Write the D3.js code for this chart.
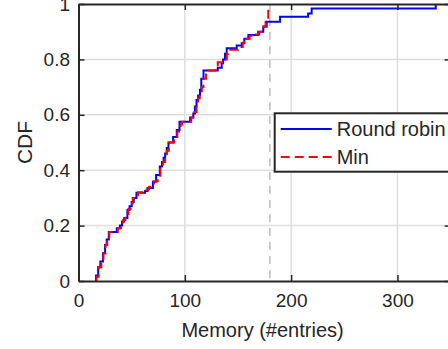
<!DOCTYPE html>
<html>
<head>
<meta charset="utf-8">
<title>CDF memory</title>
<script src="https://cdn.jsdelivr.net/npm/d3@7"></script>
<style>
  body { margin: 0; background: #fff; }
  text { font-family: "Liberation Sans", Arial, Helvetica, sans-serif; fill: #262626; }
</style>
</head>
<body>
<div id="chart"></div>
<script>
// step points of each CDF: memory value where the jump happens, CDF after the jump
var rrMem = [16.5, 16.5, 18.5, 20.5, 23, 25, 26.5, 28.5, 36, 39, 41, 43, 46, 48, 50, 52, 54.5,
  62.6, 65, 70, 73, 76.5, 78.5, 80, 81.5, 83, 84.6, 89, 92.4, 95, 105, 108, 109.5, 111, 112.5,
  114.3, 115.5, 117.6, 131, 134.7, 136, 137.8, 139.4, 148.8, 153.5, 156, 159.8, 169, 173.8,
  177, 189.6, 216, 219.3, 336];
var rrCdf = [0, 0.02, 0.05, 0.07, 0.10, 0.13, 0.15, 0.177, 0.19, 0.20, 0.215, 0.227, 0.256, 0.27,
  0.285, 0.30, 0.319, 0.325, 0.336, 0.358, 0.383, 0.413, 0.43, 0.445, 0.46, 0.48, 0.50, 0.52,
  0.545, 0.575, 0.59, 0.605, 0.63, 0.653, 0.67, 0.69, 0.73, 0.76, 0.77, 0.786, 0.80, 0.82, 0.84,
  0.85, 0.858, 0.875, 0.888, 0.90, 0.918, 0.936, 0.954, 0.966, 0.984, 1.0];

var minMem = [17, 17, 19, 21.5, 23.5, 25.5, 27, 29, 37, 40, 42, 44, 47, 49, 51, 53, 56, 64, 66.5,
  71, 74.5, 77, 79.5, 81.5, 83, 85, 90, 93, 96, 97.5, 106, 109, 111, 112.5, 114, 116, 117.5, 120,
  122, 129, 131, 136.5, 139.5, 141, 150, 154.5, 157, 161, 167, 170, 174, 176, 178.5];
var minCdf = [0, 0.015, 0.05, 0.065, 0.10, 0.13, 0.155, 0.177, 0.19, 0.205, 0.22, 0.235, 0.26,
  0.28, 0.30, 0.31, 0.32, 0.33, 0.34, 0.36, 0.38, 0.405, 0.43, 0.45, 0.47, 0.50, 0.515, 0.54,
  0.565, 0.575, 0.59, 0.61, 0.64, 0.66, 0.68, 0.70, 0.73, 0.75, 0.76, 0.775, 0.79, 0.80, 0.82,
  0.835, 0.845, 0.86, 0.875, 0.885, 0.89, 0.90, 0.92, 0.936, 1.0];

var xTicks = [0, 100, 200, 300];
var yTicks = [0, 0.2, 0.4, 0.6, 0.8, 1];
var cutoff = 180;   // dashed reference line
var seriesNames = ["Round robin", "Min"];

var W = 448, H = 349;
var pl = 78.5, pt = 4, pb = 281, pr = 450.6;

var svg = d3.select("#chart").append("svg")
    .attr("width", W).attr("height", H);

var x = d3.scaleLinear().domain([0, 350]).range([pl, pr]);
var y = d3.scaleLinear().domain([0, 1]).range([pb, pt]);

// grid
svg.append("g").selectAll("line").data(xTicks.slice(1)).join("line")
    .attr("x1", d => x(d)).attr("x2", d => x(d))
    .attr("y1", pt).attr("y2", pb)
    .attr("stroke", "#dedede").attr("stroke-width", 1.5);
svg.append("g").selectAll("line").data(yTicks.slice(1, -1)).join("line")
    .attr("x1", pl).attr("x2", pr)
    .attr("y1", d => y(d)).attr("y2", d => y(d))
    .attr("stroke", "#dedede").attr("stroke-width", 1.5);

// reference line
svg.append("line")
    .attr("x1", x(cutoff)).attr("x2", x(cutoff))
    .attr("y1", pt).attr("y2", pb)
    .attr("stroke", "#bdbdbd").attr("stroke-width", 1.5)
    .attr("stroke-dasharray", "8,6");

var line = d3.line()
    .x(d => x(d[0])).y(d => y(d[1]))
    .curve(d3.curveStepAfter);

svg.append("path")
    .datum(d3.zip(rrMem, rrCdf))
    .attr("d", line)
    .attr("fill", "none").attr("stroke", "#0000ff").attr("stroke-width", 2);

svg.append("path")
    .datum(d3.zip(minMem, minCdf))
    .attr("d", line)
    .attr("fill", "none").attr("stroke", "#ff0000").attr("stroke-width", 2)
    .attr("stroke-dasharray", "9,5");

// axes (box with inward ticks)
var axCol = "#262626";
svg.append("g").attr("transform", "translate(0," + pb + ")")
    .call(d3.axisBottom(x).tickValues(xTicks).tickSizeInner(-6).tickSizeOuter(0).tickPadding(13))
    .call(g => g.selectAll("text").attr("font-size", 19).attr("fill", axCol));
svg.append("g").attr("transform", "translate(0," + pt + ")")
    .call(d3.axisTop(x).tickValues(xTicks).tickSizeInner(-6).tickSizeOuter(0).tickFormat(""));
svg.append("g").attr("transform", "translate(" + pl + ",0)")
    .call(d3.axisLeft(y).tickValues(yTicks).tickSizeInner(-6).tickSizeOuter(0).tickPadding(8.5)
      .tickFormat(d3.format("~g")))
    .call(g => g.selectAll("text").attr("font-size", 19).attr("fill", axCol));
svg.append("g").attr("transform", "translate(" + pr + ",0)")
    .call(d3.axisRight(y).tickValues(yTicks).tickSizeInner(-6).tickSizeOuter(0).tickFormat(""));
svg.selectAll(".domain").attr("stroke", axCol).attr("stroke-width", 2);
svg.selectAll(".tick line").attr("stroke", axCol).attr("stroke-width", 1.5);
svg.selectAll(".tick text").attr("font-family", null);

// axis labels
svg.append("text")
    .attr("x", (pl + pr) / 2 - 2).attr("y", 337)
    .attr("text-anchor", "middle").attr("font-size", 20)
    .text("Memory (#entries)");
svg.append("text")
    .attr("transform", "translate(32," + (pt + pb) / 2 + ") rotate(-90)")
    .attr("text-anchor", "middle").attr("font-size", 21)
    .text("CDF");

// legend
var lg = svg.append("g").attr("transform", "translate(274.7,113.3)");
lg.append("rect").attr("width", 200).attr("height", 58.4)
    .attr("fill", "#fff").attr("stroke", axCol).attr("stroke-width", 2);
var rows = lg.selectAll("g.row").data(seriesNames).join("g")
    .attr("transform", (d, i) => "translate(0," + (15.7 + i * 28) + ")");
rows.append("line")
    .attr("x1", 6).attr("x2", 57)
    .attr("stroke", (d, i) => i ? "#ff0000" : "#0000ff")
    .attr("stroke-width", 2)
    .attr("stroke-dasharray", (d, i) => i ? "9,5" : null);
rows.append("text")
    .attr("x", 62).attr("dy", "0.36em").attr("font-size", 20)
    .text(d => d);
</script>
</body>
</html>
